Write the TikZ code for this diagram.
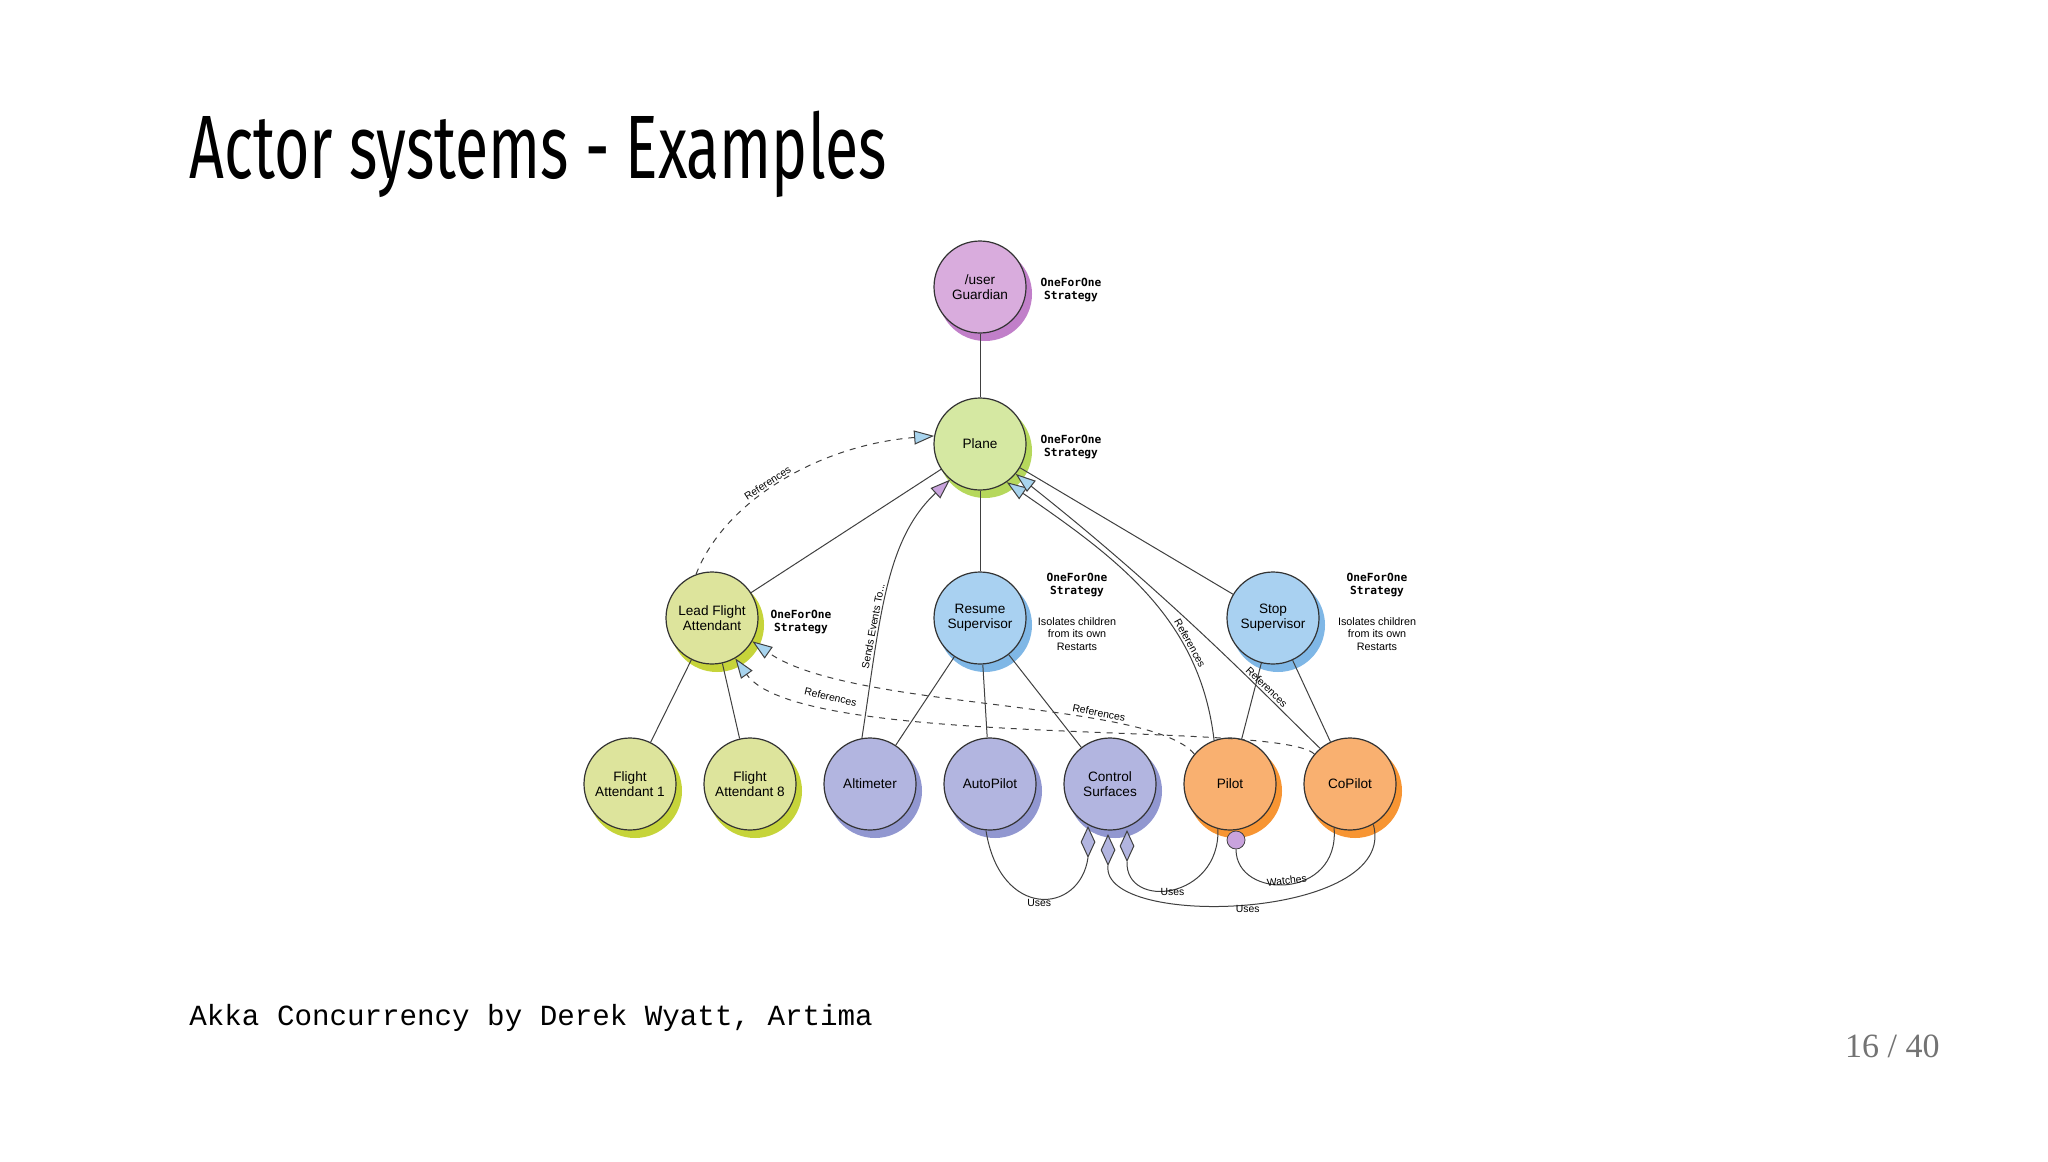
\documentclass[tikz,border=0pt]{standalone}
\usepackage{fontspec}
\setmainfont{Liberation Sans}
\newfontfamily\titlef{Fira Sans}
\newfontfamily\monof{Liberation Mono}
\newfontfamily\boldmono{DejaVu Sans Mono}
\newfontfamily\serif{Liberation Serif}
\usetikzlibrary{arrows.meta,shapes.geometric}
\definecolor{pu}{HTML}{D9ACDD}\definecolor{pus}{HTML}{C17FC9}
\definecolor{gr}{HTML}{D5E8A2}\definecolor{grs}{HTML}{B6D85C}
\definecolor{yg}{HTML}{DDE49C}\definecolor{ygs}{HTML}{C6D43A}
\definecolor{bl}{HTML}{A9D1F1}\definecolor{bls}{HTML}{7FB7E6}
\definecolor{lv}{HTML}{B2B5E0}\definecolor{lvs}{HTML}{9197D0}
\definecolor{or}{HTML}{F9B070}\definecolor{ors}{HTML}{F79533}
\definecolor{ab}{HTML}{A8D4EE}\definecolor{ap}{HTML}{C9A3DD}
\tikzset{
 actor/.style={circle,draw=black!80,line width=0.6pt,minimum size=46pt,inner sep=0pt,align=center,font=\fontsize{6.8}{7.6}\selectfont},
 strat/.style={align=center,font=\boldmono\bfseries\fontsize{5.6}{6.4}\selectfont},
 note/.style={align=center,font=\fontsize{5.4}{6.2}\selectfont},
 lbl/.style={font=\fontsize{5.2}{6}\selectfont,inner sep=1pt},
 tree/.style={draw=black!75,line width=0.5pt},
 ref/.style={draw=black!75,line width=0.5pt,-{Triangle[length=10pt,width=7pt,fill=ab]}},
 refd/.style={ref,dashed},
 send/.style={draw=black!75,line width=0.5pt,-{Triangle[length=10pt,width=7pt,fill=ap]}},
 use/.style={draw=black!75,line width=0.5pt},
 dia/.style={diamond,draw=black!75,fill=lv,minimum width=7pt,minimum height=15pt,inner sep=0pt,line width=0.5pt},
}
\newcommand{\actorat}[6]{%
 \fill[#5] (#2+5,#3+7) circle (23.5pt);
 \node[actor,fill=#4] (#1) at (#2,#3) {#6};}
\begin{document}
\begin{tikzpicture}[x=0.5pt,y=-0.5pt]
\useasboundingbox[fill=white] (0,0) rectangle (2048,1161);
\node[anchor=west,inner sep=0] (title) at (189,154) {\titlef\fontsize{45}{50}\selectfont\scalebox{0.675}[1]{Actor systems - Examples}};
\node[anchor=west,inner sep=0] (foot) at (189,1018) {\monof\fontsize{14.6}{16}\selectfont Akka Concurrency by Derek Wyatt, Artima};
\node[anchor=east,inner sep=0,text=black!55] (page) at (1940,1046) {\serif\fontsize{17}{20}\selectfont 16 / 40};

\actorat{ug}{980}{287}{pu}{pus}{/user\\Guardian}
\actorat{pl}{980}{444}{gr}{grs}{Plane}
\actorat{lfa}{712}{618}{yg}{ygs}{Lead Flight\\Attendant}
\actorat{rs}{980}{618}{bl}{bls}{Resume\\Supervisor}
\actorat{ss}{1273}{618}{bl}{bls}{Stop\\Supervisor}
\actorat{fa1}{630}{784}{yg}{ygs}{Flight\\Attendant 1}
\actorat{fa8}{750}{784}{yg}{ygs}{Flight\\Attendant 8}
\actorat{alt}{870}{784}{lv}{lvs}{Altimeter}
\actorat{ap}{990}{784}{lv}{lvs}{AutoPilot}
\actorat{cs}{1110}{784}{lv}{lvs}{Control\\Surfaces}
\actorat{pi}{1230}{784}{or}{ors}{Pilot}
\actorat{cp}{1350}{784}{or}{ors}{CoPilot}

\node[strat] (s1) at (1071,290) {OneForOne\\Strategy};
\node[strat] (s2) at (1071,447) {OneForOne\\Strategy};
\node[strat] (s3) at (801,622) {OneForOne\\Strategy};
\node[strat] (s4) at (1077,585) {OneForOne\\Strategy};
\node[note]  (n4) at (1077,634) {Isolates children\\from its own\\Restarts};
\node[strat] (s5) at (1377,585) {OneForOne\\Strategy};
\node[note]  (n5) at (1377,634) {Isolates children\\from its own\\Restarts};

\draw[tree] (ug) -- (pl);
\draw[tree] (pl) -- (lfa); \draw[tree] (pl) -- (rs); \draw[tree] (pl) -- (ss);
\draw[tree] (lfa) -- (fa1); \draw[tree] (lfa) -- (fa8);
\draw[tree] (rs) -- (alt); \draw[tree] (rs) -- (ap); \draw[tree] (rs) -- (cs);
\draw[tree] (ss) -- (pi); \draw[tree] (ss) -- (cp);

% references / sends
\draw[refd] (lfa.110) .. controls (725,500) and (820,445) .. (pl.170) node[lbl,pos=0.45,sloped,above] {References};
\draw[send] (alt.100) .. controls (880,620) and (885,540) .. (pl.230) node[lbl,pos=0.35,sloped,above] {Sends Events To...};
\draw[ref] (pi.110) .. controls (1200,620) and (1120,560) .. (pl.305) node[lbl,pos=0.3,sloped,above] {References};
\draw[ref] (cp.130) .. controls (1270,700) and (1175,600) .. (pl.320) node[lbl,pos=0.3,sloped,above] {References};
\draw[refd] (pi.140) .. controls (1150,700) and (850,710) .. (lfa.330) node[lbl,pos=0.3,sloped,above] {References};
\draw[refd] (cp.140) .. controls (1280,720) and (800,750) .. (lfa.300) node[lbl,pos=0.78,sloped,above] {References};

% uses / watches
\node[dia] (d1) at (1088,842) {};
\node[dia] (d2) at (1108,850) {};
\node[dia] (d3) at (1127,846) {};
\node[circle,draw=black!75,fill=ap,minimum size=9pt,inner sep=0pt] (w) at (1236,840) {};
\draw[use] (ap.265) .. controls (1000,920) and (1080,915) .. (d1.south) node[lbl,pos=0.5,below=-1pt] {Uses};
\draw[use] (pi.255) .. controls (1220,900) and (1125,910) .. (d3.south) node[lbl,pos=0.5,below=-2pt] {Uses};
\draw[use] (cp.300) .. controls (1400,920) and (1100,930) .. (d2.south) node[lbl,pos=0.5,below=-1pt] {Uses};
\draw[use] (cp.250) .. controls (1340,900) and (1236,900) .. (w.south) node[lbl,pos=0.5,sloped,above=-1pt] {Watches};
\end{tikzpicture}
\end{document}
